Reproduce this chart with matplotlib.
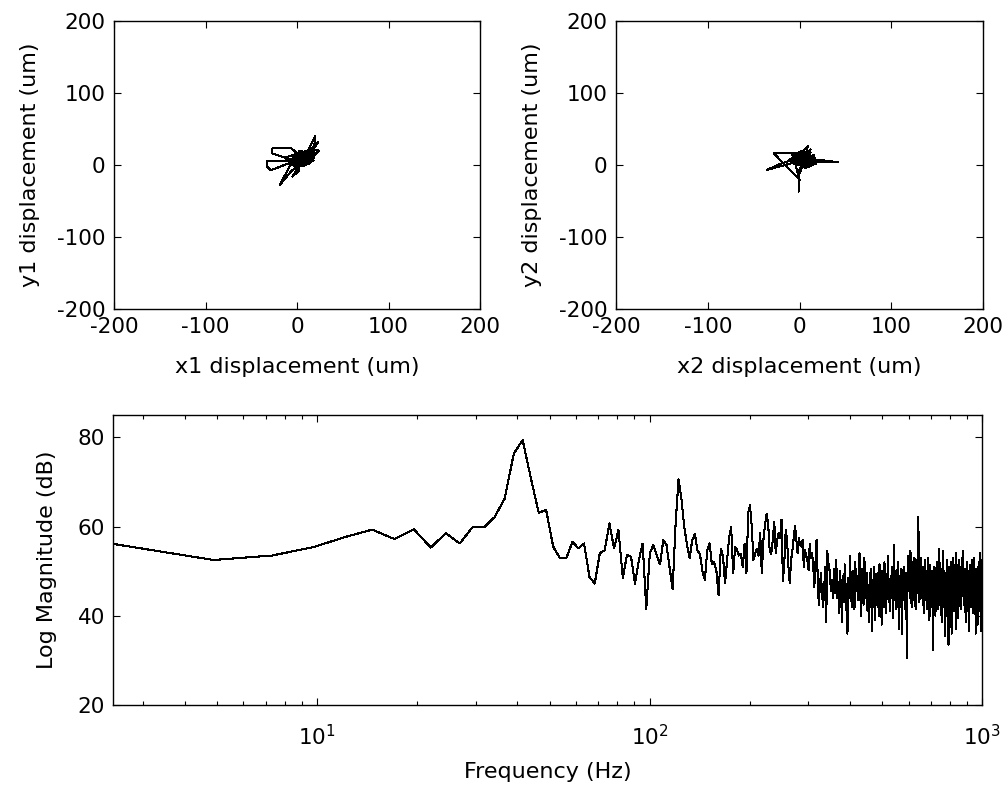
import matplotlib
matplotlib.use("Agg")
import matplotlib.pyplot as plt
import numpy as np

plt.rcParams['font.family'] = ['DejaVu Sans']
plt.rcParams['axes.unicode_minus'] = False

# ---- trajectory data (um) ----
x1 = [0, 6, -4, 10, 14, -6, 3, 16, 22, 12, -2, -8, -27, -27, -6, 4, 9, -12,
      -33, -33, -29, -24, -10, 8, 18, 20, 12, -3, -19, -6, 5, 13, 23, 10, -4,
      2, 11, 19, 15, 6, -7, -13, 0, 9, 17, 24, 13, 1, -9, 4, 10, 16, 7, -2,
      3, 2, -5, 4, 18, 9, 0, 7, 14, 5, -5, 2,
      -8, 6, 12, 4, -3, 9, 15, 1, -6, 8, 13, 17, 3, -4, 11, 6, -1, 14, 10,
      2, -9, 5, 12, 19, 8, -2, 4, 15, 7, 0, 10, 16, 3, -5, 9, 13, 6, 1]
y1 = [0, 8, 2, 12, 6, 5, 14, 18, 30, 10, -4, 8, 16, 23, 23, 12, 3, 6,
      5, -2, -7, -5, 2, 6, 16, 40, 20, 10, -28, -8, 2, 12, 32, 14, 6,
      0, 8, 14, 4, -2, 2, 10, 16, 18, 22, 20, 6, -2, 4, 10, 2, 10, 16, 12,
      4, -8, -16, 2, 6, 20, 8, 4, 14, 8, 12, 6,
      2, 10, 4, 16, 0, 6, 18, 8, 4, 12, 2, 14, 20, 8, 10, 0, 6, 16, 4,
      12, 6, 14, 18, 10, 2, 4, 8, 12, 6, -4, 14, 20, 10, 0, 4, 8, 12, 2]

x2 = [0, 8, -4, 12, 5, -3, -28, -2, 8, 15, 42, 10, -2, 9, 6, -10, -36, -20,
      -6, 0, -1, 0, 10, 16, 4, -8, -2, 13, 18, 7, -12, 2, 11, 5, 14, -3, 9,
      12, 3, -6, 8, 17, 6, 0, 10,
      4, 12, 7, -2, 15, 9, 3, 11, -5, 6, 14, 8, 1, 10, 16, 5, -3, 9, 13, 7,
      2, 11, 6, 15, 4, 8, 0, 12, 6]
y2 = [0, 6, 10, 18, 2, 16, 16, -18, 14, 8, 4, 4, 12, 26, 8, 2, -7, 2,
      8, -20, -37, -5, 10, 4, 16, 14, 4, 12, 2, -4, 6, 20, 16, 0, 6, 8, 12,
      22, 6, 2, 0, 10, 14, 4, 8,
      12, 2, 16, 6, 10, 0, 8, 14, 4, 18, 6, 2, 12, 4, 14, 8, 10, 20, 6, 0,
      10, 4, 12, 2, 8, 16, 6, 10, 4]

# ---- spectrum: one value (dB) per FFT bin, bin spacing 2.4414 Hz ----
df = 2.4414
mag_db = [
    # k 1-21
    56.1, 52.5, 53.5, 55.4, 57.7, 59.3, 57.2, 59.4, 55.3, 58.5,
    56.2, 59.8, 59.8, 62.1, 66.2, 76.4, 79.4, 70.8, 63.1, 63.7, 55.5,
    # k 22-52
    52.9, 52.9, 56.6, 55.1, 56.2, 48.7, 47.2, 54.0, 54.7, 60.7,
    55.1, 59.2, 48.5, 53.6, 53.2, 47.2, 52.5, 56.2, 41.6, 54.0,
    55.9, 53.6, 51.5, 57.0, 55.9, 50.8, 46.0, 60.5, 70.6, 66.3, 60.0,
    # k 53-84
    56.0, 53.0, 57.0, 58.3, 54.7, 53.8, 50.0, 48.0, 54.7, 56.2,
    51.5, 52.0, 50.0, 44.6, 55.0, 53.5, 47.3, 52.5, 57.7, 59.8,
    49.5, 55.5, 54.7, 53.5, 53.8, 51.0, 56.2, 49.5, 63.0, 64.8,
    60.0, 52.5,
    # k 85-114
    54.0, 55.0, 53.5, 58.5, 49.5, 57.0, 60.5, 62.8, 60.5, 54.5,
    53.8, 57.0, 61.0, 54.0, 57.0, 58.5, 57.5, 61.5, 47.8, 52.0,
    59.2, 57.0, 51.0, 47.3, 52.5, 54.7, 57.5, 60.2, 57.0, 54.0,
    # k 115-148
    57.5, 56.0, 55.5, 57.0, 51.0, 54.7, 53.5, 52.5, 50.2, 56.2,
    53.0, 54.0, 51.5, 46.5, 52.0, 57.0, 49.0, 42.5, 46.5, 49.5,
    45.0, 42.0, 45.8, 51.0, 38.7, 54.5, 52.0, 51.0, 47.3, 45.5,
    48.0, 44.0, 50.5, 45.0,
    # k 149-208
    52.5, 44.0, 47.5, 40.5, 50.0, 45.5, 38.7, 49.0, 43.0, 51.5,
    46.0, 41.0, 36.0, 48.5, 44.0, 53.5, 45.0, 42.0, 50.0, 47.0,
    41.5, 52.0, 45.5, 49.0, 43.5, 47.5, 54.0, 44.5, 40.0, 50.5,
    46.5, 42.5, 53.0, 47.0, 44.0, 49.5, 41.0, 47.0, 38.5, 45.0,
    50.5, 43.0, 36.5, 48.0, 44.5, 51.0, 39.0, 46.0, 42.5, 49.5,
    45.0, 40.0, 51.5, 44.0, 47.0, 38.0, 50.0, 45.5, 42.0, 52.0,
    # k 209-268
    44.5, 40.5, 48.5, 46.0, 53.5, 43.0, 47.5, 41.0, 49.0, 44.0,
    51.0, 45.5, 39.5, 55.8, 47.0, 43.5, 50.0, 41.5, 46.5, 52.0,
    44.0, 37.0, 49.0, 45.0, 42.0, 50.5, 36.0, 47.5, 44.0, 51.0,
    46.0, 41.5, 49.5, 43.0, 30.5, 48.0, 53.5, 45.5, 50.5, 44.0,
    54.5, 47.5, 42.0, 52.0, 46.0, 49.5, 43.5, 53.0, 47.0, 41.5,
    50.5, 45.0, 52.5, 47.5, 62.2, 48.5, 43.0, 51.5, 46.5, 53.0,
    # k 269-328
    44.0, 49.0, 42.5, 51.0, 46.5, 40.5, 52.5, 47.0, 43.5, 50.0,
    45.5, 41.5, 53.0, 46.0, 48.5, 39.0, 51.5, 44.5, 47.5, 42.0,
    50.0, 45.0, 32.3, 47.5, 43.0, 51.0, 46.5, 40.0, 49.0, 44.5,
    52.0, 46.0, 41.5, 49.5, 44.0, 55.0, 47.5, 42.5, 50.5, 45.0,
    38.5, 48.0, 44.0, 54.5, 46.5, 42.0, 50.0, 47.0, 35.5, 49.0,
    44.5, 52.5, 46.5, 40.0, 48.5, 33.5, 51.0, 45.5, 49.5, 43.0,
    # k 329-409
    52.0, 46.0, 36.0, 48.5, 44.5, 53.0, 47.0, 41.0, 49.5, 45.0,
    51.5, 43.5, 37.0, 54.0, 47.5, 42.5, 50.0, 46.0, 39.5, 52.5,
    45.5, 48.5, 43.0, 51.0, 46.0, 41.5, 49.0, 44.5, 53.0, 47.0,
    54.5, 42.5, 48.5, 45.0, 50.5, 43.5, 38.5, 49.5, 46.0, 52.0,
    44.0, 47.5, 41.0, 50.0, 45.5, 36.5, 48.0, 43.5, 51.5, 46.5,
    42.0, 49.0, 45.0, 52.5, 47.5, 40.5, 50.0, 44.0, 53.0, 46.0,
    41.5, 48.5, 36.0, 50.5, 45.5, 43.0, 49.0, 38.0, 47.0, 44.5,
    52.0, 46.0, 41.0, 54.0, 47.5, 43.5, 50.5, 45.0, 36.5, 52.5, 46.5,
]
freq = df * np.arange(1, len(mag_db) + 1)

fig = plt.figure()
fig.set_size_inches(10.02, 7.87)

fs = 16
tfs = 15.5
lw = 0.75

def matlab_axes(ax, xpad=6):
    ax.tick_params(direction='in', top=True, right=True, length=5,
                   width=0.8, labelsize=tfs, pad=6)
    ax.tick_params(axis='x', pad=xpad)
    ax.tick_params(which='minor', direction='in', top=True, right=True,
                   length=3, width=0.8)
    for s in ax.spines.values():
        s.set_linewidth(1.0)

ax1 = fig.add_axes([0.1138, 0.6074, 0.3653, 0.3659])
ax2 = fig.add_axes([0.6148, 0.6074, 0.3663, 0.3659])
ax3 = fig.add_axes([0.1131, 0.1042, 0.8673, 0.3685])

ax1.plot(x1, y1, color='k', lw=lw, antialiased=False)
ax1.set_xlim([-200, 200])
ax1.set_ylim([-200, 200])
ax1.set_xticks([-200, -100, 0, 100, 200])
ax1.set_yticks([-200, -100, 0, 100, 200])
ax1.set_xlabel("x1 displacement (um)", fontsize=fs, labelpad=14)
ax1.set_ylabel("y1 displacement (um)", fontsize=fs, labelpad=12)
matlab_axes(ax1)

ax2.plot(x2, y2, color='k', lw=lw, antialiased=False)
ax2.set_xlim([-200, 200])
ax2.set_ylim([-200, 200])
ax2.set_xticks([-200, -100, 0, 100, 200])
ax2.set_yticks([-200, -100, 0, 100, 200])
ax2.set_xlabel("x2 displacement (um)", fontsize=fs, labelpad=14)
ax2.set_ylabel("y2 displacement (um)", fontsize=fs, labelpad=12)
matlab_axes(ax2)

ax3.semilogx(freq, mag_db, color='k', lw=lw, antialiased=False)
ax3.set_xlim([df, 1000])
ax3.set_ylim([20, 85])
ax3.set_yticks([20, 40, 60, 80])
ax3.set_xlabel("Frequency (Hz)", fontsize=fs, labelpad=9)
ax3.set_ylabel("Log Magnitude (dB)", fontsize=fs, labelpad=15)
matlab_axes(ax3, xpad=14)

fig.savefig("out.png", dpi=100)
